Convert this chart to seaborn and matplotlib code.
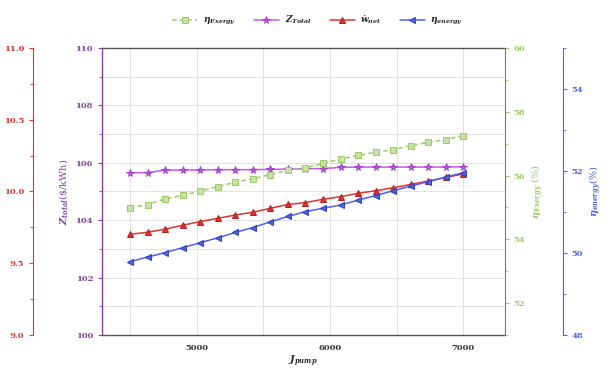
import numpy as np
import pandas as pd
import matplotlib
matplotlib.use("Agg")
import matplotlib.pyplot as plt
from matplotlib.ticker import MultipleLocator, AutoMinorLocator
import seaborn as sns

# ---- data ----
j_values = [4500, 4632, 4763, 4895, 5026, 5158, 5289, 5421, 5553, 5684,
            5816, 5947, 6079, 6211, 6342, 6474, 6605, 6737, 6868, 7000]
eta_exergy = [54.99, 55.09, 55.27, 55.38, 55.51, 55.65, 55.79, 55.90, 56.03, 56.17,
              56.24, 56.38, 56.52, 56.63, 56.73, 56.81, 56.94, 57.04, 57.13, 57.25]
z_total = [105.65, 105.66, 105.74, 105.75, 105.75, 105.76, 105.76, 105.76, 105.77, 105.78,
           105.79, 105.80, 105.84, 105.85, 105.85, 105.85, 105.85, 105.85, 105.85, 105.86]
w_net = [9.702, 9.716, 9.737, 9.765, 9.790, 9.813, 9.836, 9.855, 9.883, 9.910,
         9.922, 9.946, 9.964, 9.987, 10.005, 10.026, 10.049, 10.073, 10.098, 10.122]
eta_energy = [49.79, 49.90, 50.01, 50.13, 50.25, 50.37, 50.50, 50.62, 50.76, 50.89,
              51.01, 51.09, 51.17, 51.29, 51.40, 51.52, 51.63, 51.74, 51.85, 51.96]

labels = [r"$\eta_{Exergy}$", r"$Z_{Total}$", r"$\dot{w}_{net}$", r"$\eta_{energy}$"]

df = pd.DataFrame({"J": j_values, "eta_ex": eta_exergy, "Z": z_total,
                   "w": w_net, "eta_en": eta_energy})

C_GREEN = "#9ccc65"
C_PURPLE = "#cc55ee"
C_RED = "#e8302a"
C_BLUE = "#4a62ee"
C_PSPINE = "#8a3fa8"

sns.set_style("white")
plt.rcParams["font.family"] = ["DejaVu Serif"]
plt.rcParams["font.weight"] = "bold"
plt.rcParams["mathtext.fontset"] = "dejavuserif"

fig = plt.figure(figsize=(6.11, 3.72), dpi=100)
ax = fig.add_axes([0.167, 0.0995, 0.659, 0.7715])
ax_red = ax.twinx()
ax_green = ax.twinx()
ax_blue = ax.twinx()

FS = 6

# series
sns.lineplot(data=df, x="J", y="eta_ex", ax=ax_green, color=C_GREEN, marker="s",
             markersize=4.5, linestyle=(0, (3, 2)), linewidth=1.1,
             markerfacecolor="#c6e3a5", markeredgecolor=C_GREEN, label=labels[0], legend=False)
sns.lineplot(data=df, x="J", y="Z", ax=ax, color=C_PURPLE, marker="*",
             markersize=5.5, linewidth=1.1, markeredgecolor="#a040d0", label=labels[1], legend=False)
sns.lineplot(data=df, x="J", y="w", ax=ax_red, color=C_RED, marker="^",
             markersize=4.5, linewidth=1.1, markeredgecolor="#b02020", label=labels[2], legend=False)
sns.lineplot(data=df, x="J", y="eta_en", ax=ax_blue, color=C_BLUE, marker="<",
             markersize=4.5, linewidth=1.1, markeredgecolor="#3040c0", label=labels[3], legend=False)

# x axis
ax.set_xlim(4290, 7310)
ax.xaxis.set_major_locator(MultipleLocator(1000))
ax.xaxis.set_minor_locator(MultipleLocator(500))
ax.set_xlabel(r"$J_{pump}$", fontsize=FS + 1, labelpad=1)
ax.tick_params(axis="x", which="both", direction="out", labelsize=FS, colors="#333333")
ax.tick_params(axis="x", which="major", length=3)
ax.tick_params(axis="x", which="minor", length=2)

# purple (main left) axis
ax.set_ylim(100, 110)
ax.yaxis.set_major_locator(MultipleLocator(2))
ax.yaxis.set_minor_locator(MultipleLocator(1))
ax.set_ylabel(r"$Z_{total}$(\$/kWh)", color=C_PSPINE, fontsize=FS + 1, labelpad=4)
ax.tick_params(axis="y", which="both", direction="out", labelsize=FS, colors=C_PSPINE)
ax.tick_params(axis="y", which="major", length=3)
ax.tick_params(axis="y", which="minor", length=2)
ax.grid(True, which="both", color="#e2e2e2", linewidth=0.7)
ax.set_axisbelow(True)

# red axis (outer left)
ax_red.set_ylim(9.0, 11.0)
ax_red.yaxis.set_major_locator(MultipleLocator(0.5))
ax_red.yaxis.set_minor_locator(AutoMinorLocator(2))
ax_red.spines["left"].set_position(("axes", -0.171))
ax_red.spines["left"].set_visible(True)
ax_red.yaxis.set_label_position("left")
ax_red.yaxis.set_ticks_position("left")
ax_red.spines["left"].set_color(C_RED)
ax_red.tick_params(axis="y", which="both", direction="out", labelsize=FS, colors=C_RED)
ax_red.tick_params(axis="y", which="major", length=3)
ax_red.tick_params(axis="y", which="minor", length=2)
ax_red.set_ylabel("")
for s in ["right", "top", "bottom"]:
    ax_red.spines[s].set_visible(False)

# green axis (right frame)
ax_green.set_ylim(51, 60)
ax_green.yaxis.set_major_locator(MultipleLocator(2))
ax_green.yaxis.set_minor_locator(MultipleLocator(1))
ax_green.set_ylabel(r"$\eta_{Exergy}$ (%)", color=C_GREEN, fontsize=FS + 1, labelpad=3)
ax_green.tick_params(axis="y", which="both", direction="out", labelsize=FS, colors=C_GREEN)
ax_green.tick_params(axis="y", which="major", length=3)
ax_green.tick_params(axis="y", which="minor", length=2)
ax_green.spines["right"].set_color("#777777")
for s in ["left", "top", "bottom"]:
    ax_green.spines[s].set_visible(False)

# blue axis (outer right)
ax_blue.set_ylim(48, 55)
ax_blue.yaxis.set_major_locator(MultipleLocator(2))
ax_blue.yaxis.set_minor_locator(MultipleLocator(1))
ax_blue.spines["right"].set_position(("axes", 1.144))
ax_blue.spines["right"].set_color(C_BLUE)
ax_blue.set_ylabel(r"$\eta_{energy}$(%)", color=C_BLUE, fontsize=FS + 1, labelpad=3)
ax_blue.tick_params(axis="y", which="both", direction="out", labelsize=FS, colors=C_BLUE)
ax_blue.tick_params(axis="y", which="major", length=3)
ax_blue.tick_params(axis="y", which="minor", length=2)
for s in ["left", "top", "bottom"]:
    ax_blue.spines[s].set_visible(False)

# frame of main axes
ax.spines["left"].set_color(C_PSPINE)
ax.spines["top"].set_color("#555555")
ax.spines["bottom"].set_color("#555555")
ax.spines["right"].set_visible(False)
for s in ax.spines.values():
    s.set_linewidth(1.0)

# legend
handles = []
for a in [ax_green, ax, ax_red, ax_blue]:
    h, l = a.get_legend_handles_labels()
    handles += list(zip(h, l))
fig.legend([h for h, _ in handles], [l for _, l in handles], loc="center",
           bbox_to_anchor=(0.52, 0.945), ncol=4, frameon=False, fontsize=FS + 0.5,
           handlelength=2.8, columnspacing=2.0, handletextpad=0.6)

fig.savefig("out.png", dpi=100)
